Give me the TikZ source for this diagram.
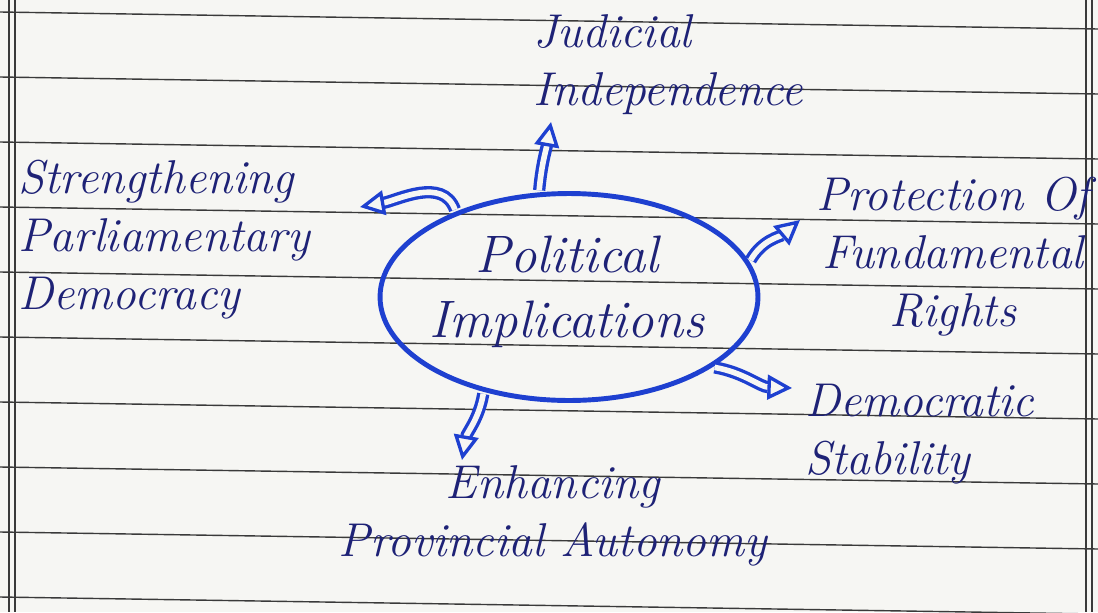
\documentclass[tikz,border=0pt]{standalone}
\usepackage{fontspec}
\usepackage{xcolor}
\usetikzlibrary{shapes.geometric,arrows.meta}
\definecolor{inkblue}{RGB}{30,64,208}
\definecolor{inknavy}{RGB}{30,34,118}
\definecolor{paper}{RGB}{246,246,243}
\definecolor{ruling}{RGB}{58,58,58}

\begin{document}
\begin{tikzpicture}[x=0.02cm,y=-0.02cm,
  hand/.style={inner sep=0pt,text=inknavy,font=\fontsize{27}{33}\selectfont\itshape},
  core/.style={ellipse,draw=inkblue,line width=2.8pt,minimum width=7.56cm,minimum height=4.14cm,inner sep=0pt},
  branch/.style={draw=inkblue,line width=1.9pt,double=paper,double distance=3.2pt,shorten <=1.2pt,
    -{Triangle[open,length=14pt,width=14pt,line width=1.9pt]}},
  ruleline/.style={draw=ruling,line width=0.8pt}]
  \useasboundingbox[fill=paper] (0,0) rectangle (1098,612);
  \foreach \k in {-2,...,7} \draw[ruleline] (0,{142+65*\k}) -- (1098,{159+65*\k});
  \foreach \m in {9,15,1086,1092} \draw[ruleline,line width=0.6pt] (\m,0) -- (\m,612);
  \node[core] (pi) at (569,297) {};
  \node[hand,font=\fontsize{30}{37}\selectfont\itshape,align=center] (pitext) at (567,292) {Political\\Implications};
  \node[hand,align=left,anchor=west] (ji) at (533,65) {Judicial\\Independence};
  \node[hand,align=left,anchor=west] (sp) at (18,240) {Strengthening\\Parliamentary\\Democracy};
  \node[hand,align=center] (pf) at (953,257) {Protection Of\\Fundamental\\Rights};
  \node[hand,align=left,anchor=west] (ds) at (805,434) {Democratic\\Stability};
  \node[hand,align=center] (ep) at (553,516) {Enhancing\\Provincial Autonomy};
  \coordinate (jitip) at (551,122);
  \coordinate (sptip) at (360,207);
  \coordinate (pftip) at (800,220);
  \coordinate (dstip) at (792,388);
  \coordinate (eptip) at (462,460);
  \draw[branch] (pi.106) to[out=85,in=-100] (jitip);
  \draw[branch] (pi.143) to[out=110,in=10] (sptip);
  \draw[branch] (pi.11) to[out=60,in=-140] (pftip);
  \draw[branch] (pi.-26) to[out=-10,in=178] (dstip);
  \draw[branch] (pi.-132) to[out=-100,in=80] (eptip);
\end{tikzpicture}
\end{document}
